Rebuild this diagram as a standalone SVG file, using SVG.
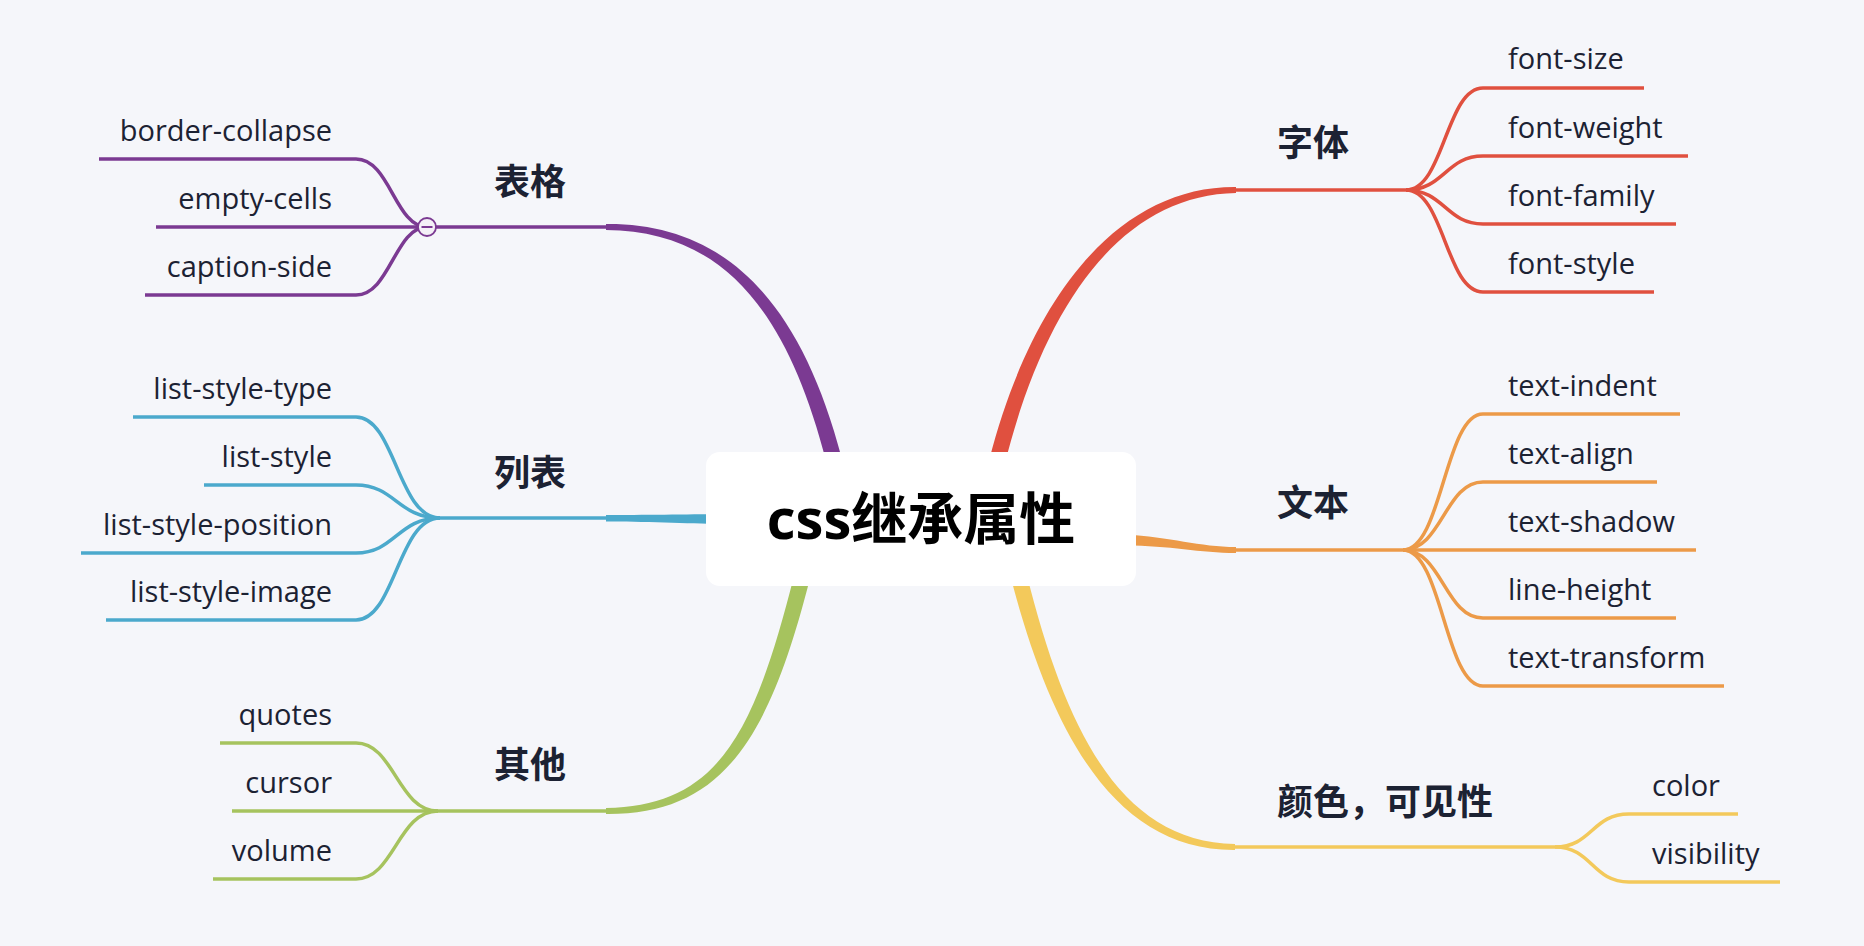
<svg xmlns="http://www.w3.org/2000/svg" width="1864" height="946" viewBox="0 0 1864 946">
<style>
.leaf{font-family:"Open Sans","Noto Sans CJK SC",sans-serif;font-size:29px;fill:#1c2233}
.lab{font-family:"Noto Sans CJK SC","Noto Sans",sans-serif;font-size:36px;font-weight:700;fill:#1c2233}
.title{font-family:"Open Sans","Noto Sans CJK SC",sans-serif;font-size:56px;font-weight:700;fill:#000}
.ln{fill:none;stroke-width:3.5;stroke-linecap:butt}
.pu{stroke:#7b3a92}.bl{stroke:#4ba9cc}.gr{stroke:#a6c35e}.rd{stroke:#e0503f}.or{stroke:#ec9a48}.ye{stroke:#f3c95b}
</style>
<rect x="0" y="0" width="1864" height="946" fill="#f5f6fa"/>
<g id="connectors">
  <!-- main tapered branches -->
  <path d="M841.7,458 C799.5,297 722,223 606,224 L606,230 C718,231 785.5,303 826.3,462 Z" fill="#7b3a92"/>
  <path d="M720,514 C690,514.5 640,515 606,515 L606,521.5 C640,521.5 690,523.5 720,524 Z" fill="#4ba9cc"/>
  <path d="M809.8,579 C769,739.5 722,815 606,814 L606,808 C718,806 754,734.5 794.2,575 Z" fill="#a6c35e"/>
  <path d="M989.2,460 C1031,297 1118,186 1236,187 L1236,193 C1122,195 1045,303 1004.8,464 Z" fill="#e0503f"/>
  <path d="M1125,534.5 C1170,537 1200,547 1236,547 L1236,553 C1200,553 1170,545.5 1125,545.5 Z" fill="#ec9a48"/>
  <path d="M1011.2,579 C1053,739.5 1118,851 1235,850 L1235,844 C1122,842 1067,734.5 1026.8,575 Z" fill="#f3c95b"/>
  <!-- thin trunks -->
  <path class="ln pu" d="M606,227 L427,227"/>
  <path class="ln bl" d="M606,518 L440,518"/>
  <path class="ln gr" d="M606,811 L438,811"/>
  <path class="ln rd" d="M1236,190 L1406,190"/>
  <path class="ln or" d="M1236,550 L1403,550"/>
  <path class="ln ye" d="M1235,847 L1555,847"/>
  <!-- purple children curves -->
  <path class="ln pu" d="M427,227 C395,227 390,159 356,159"/>
  <path class="ln pu" d="M427,227 L356,227"/>
  <path class="ln pu" d="M427,227 C395,227 390,295 356,295"/>
  <!-- blue -->
  <path class="ln bl" d="M440,518 C398,518 395,417 356,417"/>
  <path class="ln bl" d="M440,518 C398,518 395,485 356,485"/>
  <path class="ln bl" d="M440,518 C398,518 395,553 356,553"/>
  <path class="ln bl" d="M440,518 C398,518 395,620 356,620"/>
  <!-- green -->
  <path class="ln gr" d="M438,811 C398,811 394,743 356,743"/>
  <path class="ln gr" d="M438,811 L356,811"/>
  <path class="ln gr" d="M438,811 C398,811 394,879 356,879"/>
  <!-- red -->
  <path class="ln rd" d="M1406,190 C1444,190 1446,88 1483,88"/>
  <path class="ln rd" d="M1406,190 C1444,190 1446,156 1483,156"/>
  <path class="ln rd" d="M1406,190 C1444,190 1446,224 1483,224"/>
  <path class="ln rd" d="M1406,190 C1444,190 1446,292 1483,292"/>
  <!-- orange -->
  <path class="ln or" d="M1403,550 C1442,550 1445,414 1483,414"/>
  <path class="ln or" d="M1403,550 C1442,550 1445,482 1483,482"/>
  <path class="ln or" d="M1403,550 L1483,550"/>
  <path class="ln or" d="M1403,550 C1442,550 1445,618 1483,618"/>
  <path class="ln or" d="M1403,550 C1442,550 1445,686 1483,686"/>
  <!-- yellow -->
  <path class="ln ye" d="M1555,847 C1592,847 1592,814 1629,814"/>
  <path class="ln ye" d="M1555,847 C1592,847 1592,882 1629,882"/>
</g>

<g id="root">
  <rect x="706" y="452" width="430" height="134" rx="14" fill="#ffffff"/>
  <text class="title" x="921" y="539" text-anchor="middle">css继承属性</text>
</g>

<g id="n-biaoge">
  <text class="lab" x="494" y="195">表格</text>
  <circle cx="427" cy="227" r="9" fill="#f4f0f7" stroke="#7b3a92" stroke-width="1.8"/>
  <line x1="421.5" y1="227" x2="432.5" y2="227" stroke="#7b3a92" stroke-width="2"/>
</g>
<g id="n-border-collapse"><path class="ln pu" d="M99,159 H356"/><text class="leaf" x="332" y="141" text-anchor="end">border-collapse</text></g>
<g id="n-empty-cells"><path class="ln pu" d="M156,227 H356"/><text class="leaf" x="332" y="209" text-anchor="end">empty-cells</text></g>
<g id="n-caption-side"><path class="ln pu" d="M145,295 H356"/><text class="leaf" x="332" y="277" text-anchor="end">caption-side</text></g>

<g id="n-liebiao"><text class="lab" x="494" y="486">列表</text></g>
<g id="n-list-style-type"><path class="ln bl" d="M133,417 H356"/><text class="leaf" x="332" y="399" text-anchor="end">list-style-type</text></g>
<g id="n-list-style"><path class="ln bl" d="M204,485 H356"/><text class="leaf" x="332" y="467" text-anchor="end">list-style</text></g>
<g id="n-list-style-position"><path class="ln bl" d="M81,553 H356"/><text class="leaf" x="332" y="535" text-anchor="end">list-style-position</text></g>
<g id="n-list-style-image"><path class="ln bl" d="M106,620 H356"/><text class="leaf" x="332" y="602" text-anchor="end">list-style-image</text></g>

<g id="n-qita"><text class="lab" x="494" y="778">其他</text></g>
<g id="n-quotes"><path class="ln gr" d="M220,743 H356"/><text class="leaf" x="332" y="725" text-anchor="end">quotes</text></g>
<g id="n-cursor"><path class="ln gr" d="M232,811 H356"/><text class="leaf" x="332" y="793" text-anchor="end">cursor</text></g>
<g id="n-volume"><path class="ln gr" d="M213,879 H356"/><text class="leaf" x="332" y="861" text-anchor="end">volume</text></g>

<g id="n-ziti"><text class="lab" x="1277" y="156">字体</text></g>
<g id="n-font-size"><path class="ln rd" d="M1483,88 H1644"/><text class="leaf" x="1508" y="69">font-size</text></g>
<g id="n-font-weight"><path class="ln rd" d="M1483,156 H1688"/><text class="leaf" x="1508" y="138">font-weight</text></g>
<g id="n-font-family"><path class="ln rd" d="M1483,224 H1676"/><text class="leaf" x="1508" y="206">font-family</text></g>
<g id="n-font-style"><path class="ln rd" d="M1483,292 H1654"/><text class="leaf" x="1508" y="274">font-style</text></g>

<g id="n-wenben"><text class="lab" x="1277" y="516">文本</text></g>
<g id="n-text-indent"><path class="ln or" d="M1483,414 H1680"/><text class="leaf" x="1508" y="396">text-indent</text></g>
<g id="n-text-align"><path class="ln or" d="M1483,482 H1657"/><text class="leaf" x="1508" y="464">text-align</text></g>
<g id="n-text-shadow"><path class="ln or" d="M1483,550 H1696"/><text class="leaf" x="1508" y="532">text-shadow</text></g>
<g id="n-line-height"><path class="ln or" d="M1483,618 H1676"/><text class="leaf" x="1508" y="600">line-height</text></g>
<g id="n-text-transform"><path class="ln or" d="M1483,686 H1724"/><text class="leaf" x="1508" y="668">text-transform</text></g>

<g id="n-yanse"><text class="lab" x="1277" y="815">颜色，可见性</text></g>
<g id="n-color"><path class="ln ye" d="M1629,814 H1738"/><text class="leaf" x="1652" y="796">color</text></g>
<g id="n-visibility"><path class="ln ye" d="M1629,882 H1780"/><text class="leaf" x="1652" y="864">visibility</text></g>
</svg>
